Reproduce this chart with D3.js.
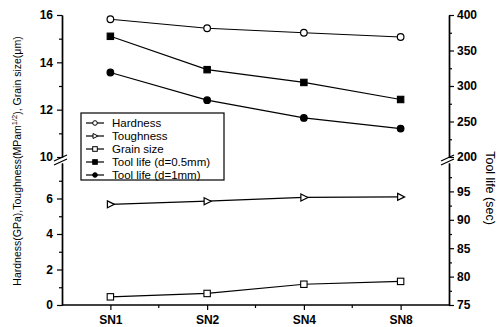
<!DOCTYPE html>
<html><head><meta charset="utf-8">
<script src="https://cdn.jsdelivr.net/npm/d3@7"></script>
<style>
body{margin:0;background:#fff;}
svg{display:block;font-family:"Liberation Sans",Arial,sans-serif;}
</style></head>
<body><svg id="c" width="502" height="327"></svg>
<script>
const categories = ["SN1","SN2","SN4","SN8"];
const hardness = [15.82, 15.44, 15.25, 15.07];
const toughness = [5.67, 5.85, 6.06, 6.09];
const grainSize = [0.46, 0.65, 1.17, 1.33];
const toolLife05 = [370, 323, 305, 281];
const toolLife1 = [319, 280, 255, 240];
const leftUpperTicks = [10,12,14,16];
const leftLowerTicks = [0,2,4,6];
const rightUpperTicks = [200,250,300,350,400];
const rightLowerTicks = [75,80,85,90,95];
const legendLabels = ["Hardness","Toughness","Grain size","Tool life (d=0.5mm)","Tool life (d=1mm)"];

const svg = d3.select("#c");
const X0 = 62, X1 = 449, YB = 305, YT = 15, BRK_TOP = 157, BRK_BOT = 163;
const x = d3.scalePoint().domain(categories).range([X0, X1]).padding(0.5);
const yLU = d3.scaleLinear().domain([10,16]).range([BRK_TOP, YT]);
const yLL = d3.scaleLinear().domain([0,8]).range([YB, BRK_BOT]);
const yRU = d3.scaleLinear().domain([200,400]).range([BRK_TOP, YT]);
const yRL = d3.scaleLinear().domain([75,100]).range([YB, BRK_BOT]);

function styleAxis(g){
  g.selectAll("path.domain").attr("stroke","#000").attr("stroke-width",1.4);
  g.selectAll(".tick line").attr("stroke","#000").attr("stroke-width",1.2);
  g.selectAll("text").attr("font-size",12).attr("font-weight","bold").attr("fill","#000");
}

// left axes
let g = svg.append("g").attr("transform",`translate(${X0},0)`).call(d3.axisLeft(yLU).tickValues(leftUpperTicks).tickSize(5).tickSizeOuter(0).tickPadding(4).tickFormat(d3.format("d")));
styleAxis(g);
g = svg.append("g").attr("transform",`translate(${X0},0)`).call(d3.axisLeft(yLU).tickValues([11,13,15]).tickSize(3).tickSizeOuter(0).tickFormat(""));
styleAxis(g);
g = svg.append("g").attr("transform",`translate(${X0},0)`).call(d3.axisLeft(yLL).tickValues(leftLowerTicks).tickSize(5).tickSizeOuter(0).tickPadding(4).tickFormat(d3.format("d")));
styleAxis(g);
g = svg.append("g").attr("transform",`translate(${X0},0)`).call(d3.axisLeft(yLL).tickValues([1,3,5,7]).tickSize(3).tickSizeOuter(0).tickFormat(""));
styleAxis(g);
// right axes
g = svg.append("g").attr("transform",`translate(${X1},0)`).call(d3.axisRight(yRU).tickValues(rightUpperTicks).tickSize(5).tickSizeOuter(0).tickPadding(3));
styleAxis(g);
g = svg.append("g").attr("transform",`translate(${X1},0)`).call(d3.axisRight(yRU).tickValues([225,275,325,375]).tickSize(3).tickSizeOuter(0).tickFormat(""));
styleAxis(g);
g = svg.append("g").attr("transform",`translate(${X1},0)`).call(d3.axisRight(yRL).tickValues(rightLowerTicks).tickSize(5).tickSizeOuter(0).tickPadding(3));
styleAxis(g);
g = svg.append("g").attr("transform",`translate(${X1},0)`).call(d3.axisRight(yRL).tickValues([77.5,82.5,87.5,92.5,97.5]).tickSize(3).tickSizeOuter(0).tickFormat(""));
styleAxis(g);
// bottom axis
g = svg.append("g").attr("transform",`translate(0,${YB})`).call(d3.axisBottom(x).tickSize(5).tickSizeOuter(0).tickPadding(5));
styleAxis(g);
g.select("path.domain").attr("d",`M${X0},0H${X1}`);
const step = x.step();
g.selectAll(".minor").data(categories.slice(0,3)).enter().append("line")
  .attr("x1",d=>x(d)+step/2).attr("x2",d=>x(d)+step/2).attr("y1",0).attr("y2",3)
  .attr("stroke","#000").attr("stroke-width",1.2);

// break marks
[X0, X1].forEach(ax=>{
  [BRK_TOP+1, BRK_BOT-1].forEach(yy=>{
    svg.append("line").attr("x1",ax-8).attr("y1",yy+3).attr("x2",ax+5).attr("y2",yy-3)
      .attr("stroke","#000").attr("stroke-width",1.3);
  });
});

// series
const series = [
  {vals:hardness, y:yLU, sym:"circle", fill:"#fff"},
  {vals:toughness, y:yLL, sym:"tri", fill:"#fff"},
  {vals:grainSize, y:yLL, sym:"square", fill:"#fff"},
  {vals:toolLife05, y:yRU, sym:"square", fill:"#000"},
  {vals:toolLife1, y:yRU, sym:"circle", fill:"#000"}
];
function drawSym(sel, sym, fill, cx, cy){
  if(sym==="circle") sel.append("circle").attr("cx",cx).attr("cy",cy).attr("r",3.3).attr("fill",fill).attr("stroke","#000").attr("stroke-width",1.2);
  else if(sym==="square") sel.append("rect").attr("x",cx-3.2).attr("y",cy-3.2).attr("width",6.4).attr("height",6.4).attr("fill",fill).attr("stroke","#000").attr("stroke-width",1.1);
  else sel.append("path").attr("d",`M${cx-3},${cy-3.5}L${cx+4},${cy}L${cx-3},${cy+3.5}Z`).attr("fill",fill).attr("stroke","#000").attr("stroke-width",1.2);
}
series.forEach(s=>{
  const line = d3.line().x((d,i)=>x(categories[i])).y(d=>s.y(d));
  svg.append("path").datum(s.vals).attr("d",line).attr("fill","none").attr("stroke","#000").attr("stroke-width",1.2);
  s.vals.forEach((v,i)=>drawSym(svg, s.sym, s.fill, x(categories[i]), s.y(v)));
});

// legend
const lg = svg.append("g");
lg.append("rect").attr("x",81).attr("y",113).attr("width",143).attr("height",67).attr("fill","#fff").attr("stroke","#000").attr("stroke-width",1.2);
legendLabels.forEach((t,i)=>{
  const yy = 123 + i*13;
  lg.append("line").attr("x1",86).attr("x2",104).attr("y1",yy).attr("y2",yy).attr("stroke","#000").attr("stroke-width",1.2);
  const s = series[i];
  const sel = lg.append("g");
  if(s.sym==="circle") sel.append("circle").attr("cx",95).attr("cy",yy).attr("r",2.3).attr("fill",s.fill).attr("stroke","#000").attr("stroke-width",1);
  else if(s.sym==="square") sel.append("rect").attr("x",92.7).attr("y",yy-2.3).attr("width",4.6).attr("height",4.6).attr("fill",s.fill).attr("stroke","#000").attr("stroke-width",1);
  else sel.append("path").attr("d",`M${93},${yy-2.5}L${98},${yy}L${93},${yy+2.5}Z`).attr("fill",s.fill).attr("stroke","#000").attr("stroke-width",1);
  lg.append("text").attr("x",112).attr("y",yy+4).attr("font-size",11.5).attr("fill","#000").text(t);
});

// axis titles
const lt = svg.append("text").attr("transform","translate(21,161) rotate(-90)").attr("text-anchor","middle")
  .attr("font-size",10.5).attr("fill","#000");
lt.append("tspan").text("Hardness(GPa),Toughness(MPam");
lt.append("tspan").attr("font-size",7.5).attr("dy",-4).text("1/2");
lt.append("tspan").attr("dy",4).text("), Grain size(\u03bcm)");
svg.append("text").attr("transform","translate(486,188) rotate(90)").attr("text-anchor","middle")
  .attr("font-size",12.5).attr("fill","#000").text("Tool life (sec)");
</script></body></html>
